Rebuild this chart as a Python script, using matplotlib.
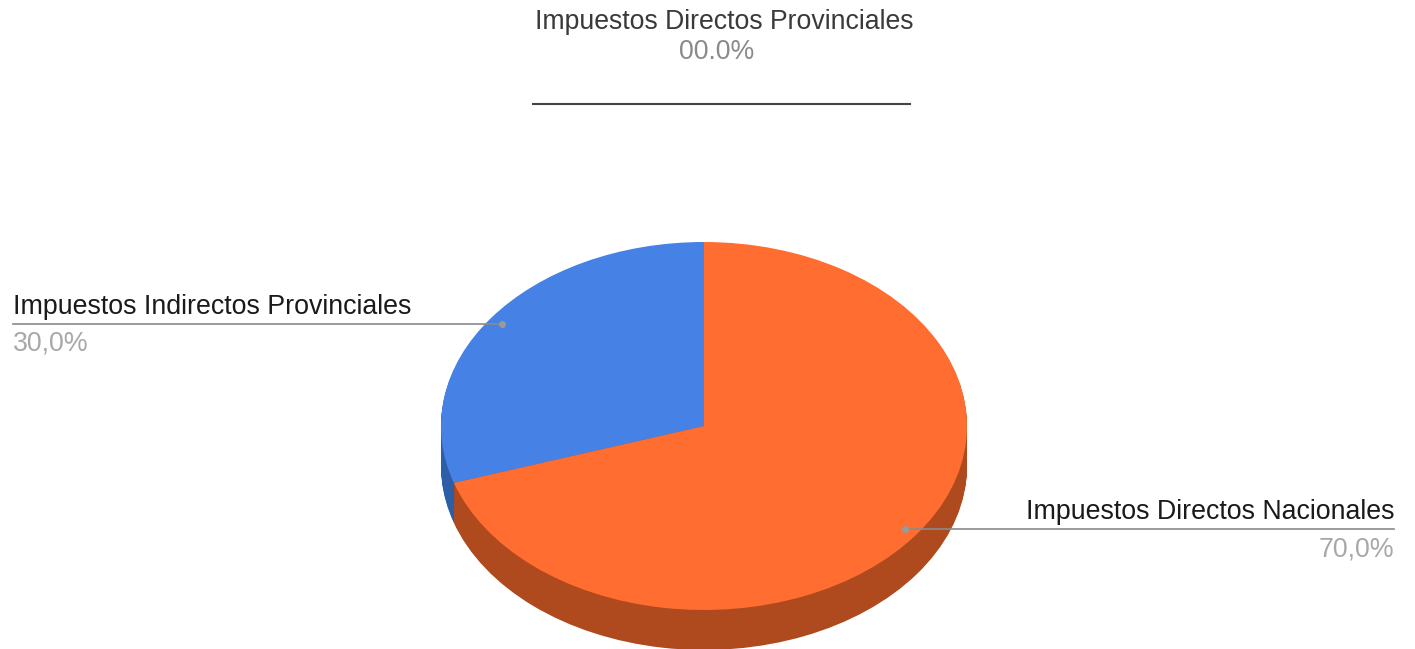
import matplotlib
matplotlib.use('Agg')
import matplotlib.pyplot as plt

#chart values
labels = ['Impuestos Indirectos Provinciales', 'Impuestos Directos Nacionales']
values = [30.0, 70.0]
value_labels = ['30,0%', '70,0%']
top_label = 'Impuestos Directos Provinciales'
top_value = '00.0%'
colors = ['#4682e6', '#ff6d31']
side_colors = ['#2d5fa8', '#ae4a1e']

W, H = 1415, 649
plt.rcParams['font.family'] = ['Liberation Sans', 'DejaVu Sans']
fig = plt.figure(figsize=(W / 100, H / 100), dpi=100)

#overlay in pixel coordinates for the texts and leader lines
ov = fig.add_axes([0, 0, 1, 1], zorder=3)
ov.set_xlim(0, W)
ov.set_ylim(H, 0)
ov.axis('off')
ov.patch.set_alpha(0)

#pie axes stretched so the circle turns into an ellipse
cx, cy, rx, ry, depth = 704, 426, 263, 184, 40
ax = fig.add_axes([(cx - rx) / W, 1 - (cy + ry) / H, 2 * rx / W, 2 * ry / H], zorder=1)
for d in range(depth, 0, -1):
    ax.pie(values, colors=side_colors, startangle=90, center=(0, -d / ry), radius=1,
           wedgeprops={'clip_on': False, 'linewidth': 0}, normalize=True)
ax.pie(values, colors=colors, startangle=90, center=(0, 0), radius=1,
       wedgeprops={'clip_on': False, 'linewidth': 0})
ax.set_aspect('auto')
ax.set_xlim(-1, 1)
ax.set_ylim(-1, 1)
ax.axis('off')

#top label for the empty slice
ov.text(724, 22, top_label, fontsize=19.2, color='#3a3a3a', ha='center', va='center')
ov.text(716.5, 52, top_value, fontsize=19.2, color='#8a8a8a', ha='center', va='center')
ov.plot([533, 910], [104, 104], color='#444444', lw=1.5)

#left label
ov.plot([13, 502], [323.5, 323.5], color='#8a8a8a', lw=1.2)
ov.plot([502], [323.5], 'o', color='#9a9a9a', ms=4)
ov.text(13, 307, labels[0], fontsize=19.3, color='#1a1a1a', ha='left', va='center')
ov.text(13, 344, value_labels[0], fontsize=19.3, color='#a8a8a8', ha='left', va='center')

#right label
ov.plot([905, 1394], [528.5, 528.5], color='#8a8a8a', lw=1.2)
ov.plot([905], [528.5], 'o', color='#9a9a9a', ms=4)
ov.text(1394, 512, labels[1], fontsize=19.3, color='#1a1a1a', ha='right', va='center')
ov.text(1394, 549, value_labels[1], fontsize=19.3, color='#a8a8a8', ha='right', va='center')

fig.savefig('out.png', dpi=100)
